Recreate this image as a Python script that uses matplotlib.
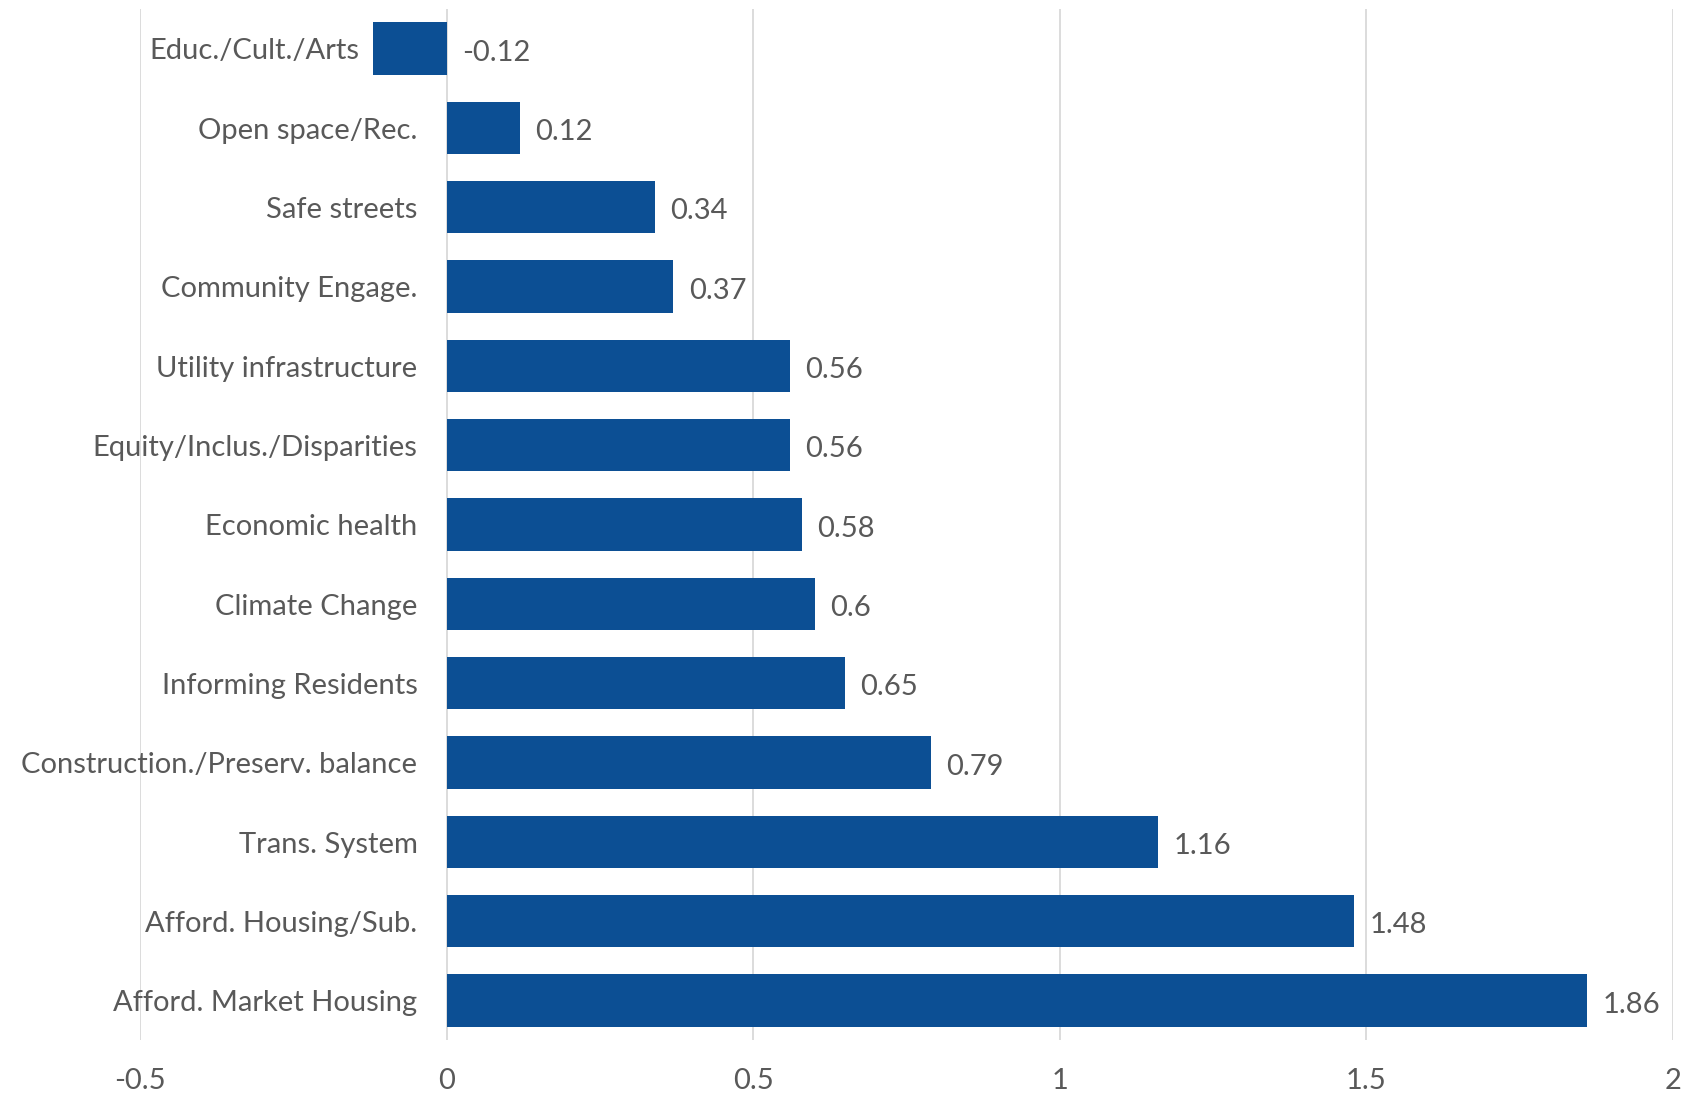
import matplotlib.pyplot as plt
import numpy as np

categories = ['Educ./Cult./Arts', 'Open space/Rec.', 'Safe streets', 'Community Engage.',
              'Utility infrastructure', 'Equity/Inclus./Disparities', 'Economic health',
              'Climate Change', 'Informing Residents', 'Construction./Preserv. balance',
              'Trans. System', 'Afford. Housing/Sub.', 'Afford. Market Housing']
values = [-0.12, 0.12, 0.34, 0.37, 0.56, 0.56, 0.58, 0.6, 0.65, 0.79, 1.16, 1.48, 1.86]
value_labels = ['-0.12', '0.12', '0.34', '0.37', '0.56', '0.56', '0.58', '0.6', '0.65',
                '0.79', '1.16', '1.48', '1.86']
xticks = [-0.5, 0, 0.5, 1, 1.5, 2]
xtick_labels = ['-0.5', '0', '0.5', '1', '1.5', '2']

barColor = '#0C4F94'
textColor = '#595959'
gridColor = '#D9D9D9'
fs = 21

plt.rcParams['font.family'] = ['Lato', 'DejaVu Sans']

fig = plt.figure(figsize=(16.89, 10.95), dpi=100)
ax = fig.add_axes([0.0829, 0.0502, 0.9076, 0.9416])

ypos = np.arange(len(categories))
ax.barh(ypos, values, height=0.66, color=barColor, zorder=3)

ax.set_xlim(-0.5, 2)
ax.set_ylim(len(categories) - 0.5, -0.5)

ax.set_xticks(xticks)
ax.set_xticklabels(xtick_labels, fontsize=fs, color=textColor)
ax.tick_params(axis='x', length=0, pad=20)
ax.set_yticks([])
ax.grid(axis='x', color=gridColor, linewidth=1.3, zorder=0)
for s in ax.spines.values():
    s.set_visible(False)

#category labels sit left of the bar base
for i, (cat, v) in enumerate(zip(categories, values)):
    off = -10 if v < 0 else -21
    ax.annotate(cat, xy=(min(v, 0), i), xytext=(off, -2), textcoords='offset points',
                ha='right', va='center', fontsize=fs, color=textColor, zorder=4)

#value labels right of bar end (or zero for negatives)
for i, (v, lab) in enumerate(zip(values, value_labels)):
    ax.annotate(lab, xy=(max(v, 0), i), xytext=(11, -3), textcoords='offset points',
                ha='left', va='center', fontsize=fs, color=textColor, zorder=4)

fig.savefig('out.png', dpi=100)
